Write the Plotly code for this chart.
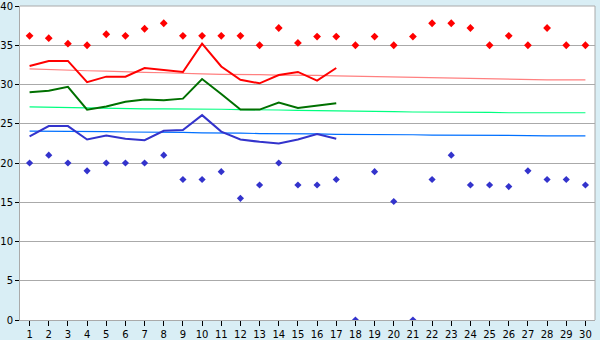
import plotly.graph_objects as go

days = list(range(1, 31))
days17 = list(range(1, 18))

max_pts = [36.2, 35.9, 35.2, 35.0, 36.4, 36.2, 37.1, 37.8, 36.2, 36.2,
           36.2, 36.2, 35.0, 37.2, 35.3, 36.1, 36.1, 35.0, 36.1, 35.0,
           36.1, 37.8, 37.8, 37.2, 35.0, 36.2, 35.0, 37.2, 35.0, 35.0]
min_pts = [20.0, 21.0, 20.0, 19.0, 20.0, 20.0, 20.0, 21.0, 17.9, 17.9,
           18.9, 15.5, 17.2, 20.0, 17.2, 17.2, 17.9, 0.0, 18.9, 15.1,
           0.0, 17.9, 21.0, 17.2, 17.2, 17.0, 19.0, 17.9, 17.9, 17.2]

max_line = [32.35, 33.0, 33.0, 30.3, 31.0, 31.0, 32.1, 31.85, 31.6, 35.2,
            32.3, 30.6, 30.15, 31.2, 31.6, 30.5, 32.1]
mean_line = [29.0, 29.2, 29.7, 26.8, 27.2, 27.8, 28.1, 28.0, 28.2, 30.7,
             28.8, 26.8, 26.8, 27.7, 27.0, 27.3, 27.6]
min_line = [23.4, 24.7, 24.7, 23.0, 23.5, 23.1, 22.9, 24.1, 24.2, 26.1,
            24.0, 23.0, 22.7, 22.5, 23.0, 23.7, 23.1]

norm_max = [32.0, 31.9, 31.8, 31.75, 31.7, 31.6, 31.55, 31.5, 31.4, 31.35,
            31.3, 31.3, 31.25, 31.2, 31.2, 31.15, 31.1, 31.05, 31.0, 30.95,
            30.9, 30.85, 30.8, 30.75, 30.7, 30.7, 30.65, 30.6, 30.6, 30.6]
norm_mean = [27.15, 27.1, 27.05, 27.0, 27.0, 26.95, 26.9, 26.9, 26.9, 26.85,
             26.85, 26.8, 26.8, 26.75, 26.7, 26.7, 26.65, 26.6, 26.6, 26.55,
             26.5, 26.5, 26.5, 26.45, 26.45, 26.4, 26.4, 26.4, 26.4, 26.4]
norm_min = [24.05, 24.05, 24.0, 24.0, 24.0, 23.95, 23.95, 23.9, 23.9, 23.85,
            23.85, 23.8, 23.75, 23.75, 23.7, 23.7, 23.65, 23.65, 23.6, 23.6,
            23.6, 23.55, 23.55, 23.55, 23.5, 23.5, 23.5, 23.45, 23.45, 23.45]

y_ticks = [0, 5, 10, 15, 20, 25, 30, 35, 40]

fig = go.Figure()
fig.add_trace(go.Scatter(x=days, y=norm_max, mode="lines", line=dict(color="#FF8080", width=1.2)))
fig.add_trace(go.Scatter(x=days, y=norm_mean, mode="lines", line=dict(color="#00FF80", width=1.2)))
fig.add_trace(go.Scatter(x=days, y=norm_min, mode="lines", line=dict(color="#0070FF", width=1.2)))
fig.add_trace(go.Scatter(x=days17, y=max_line, mode="lines", line=dict(color="#FF0000", width=2)))
fig.add_trace(go.Scatter(x=days17, y=mean_line, mode="lines", line=dict(color="#007000", width=2)))
fig.add_trace(go.Scatter(x=days17, y=min_line, mode="lines", line=dict(color="#3333CC", width=2)))
fig.add_trace(go.Scatter(x=days, y=max_pts, mode="markers",
                         marker=dict(symbol="diamond", size=6, color="#FF0000")))
fig.add_trace(go.Scatter(x=days, y=min_pts, mode="markers",
                         marker=dict(symbol="diamond", size=5.5, color="#3333CC")))

fig.update_layout(
    width=600, height=340,
    margin=dict(l=20, r=5, t=6, b=20),
    paper_bgcolor="#D9EEF5",
    plot_bgcolor="#FFFFFF",
    showlegend=False,
    font=dict(family="DejaVu Sans", size=10, color="#000000"),
)
fig.update_xaxes(
    range=[0.5, 30.5], tickvals=days, ticktext=[str(d) for d in days],
    showgrid=False, zeroline=False, automargin=False,
    ticks="outside", ticklen=5, tickcolor="#000000",
    ticklabelstandoff=0, ticklabeloverflow="allow",
    showline=True, linecolor="#AAAAAA", linewidth=1, mirror=False,
    tickfont=dict(size=10), fixedrange=True,
)
fig.update_yaxes(
    range=[0, 40], tickvals=y_ticks,
    showgrid=True, gridcolor="#AAAAAA", gridwidth=1, zeroline=False, automargin=False,
    ticks="outside", ticklen=4, tickcolor="#000000",
    ticklabelstandoff=0, ticklabeloverflow="allow",
    showline=True, linecolor="#AAAAAA", linewidth=1,
    tickfont=dict(size=10), fixedrange=True,
)
fig.add_shape(type="line", xref="paper", yref="paper", x0=1, x1=1, y0=0, y1=1,
              line=dict(color="#AAAAAA", width=1))
fig.add_shape(type="line", xref="paper", yref="paper", x0=0, x1=1, y0=1, y1=1,
              line=dict(color="#AAAAAA", width=1))
fig.write_html("out.html")
